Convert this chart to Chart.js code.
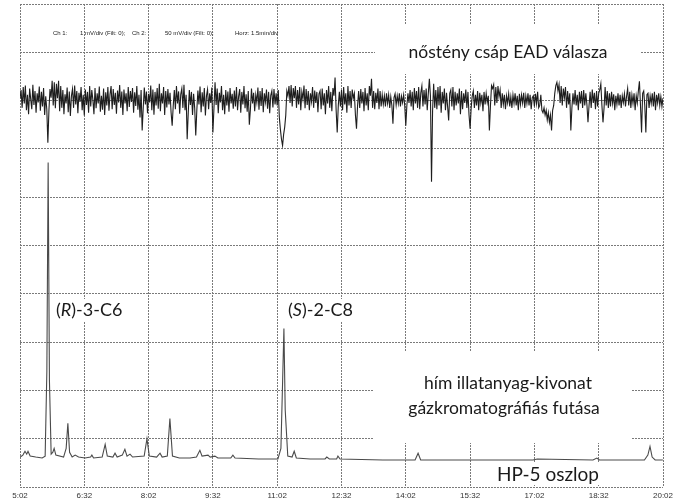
<!DOCTYPE html>
<html>
<head>
<meta charset="utf-8">
<script src="https://cdn.jsdelivr.net/npm/chart.js@4"></script>
<style>
  body { margin: 0; background: #fff; }
  #wrap { width: 678px; height: 504px; }
</style>
</head>
<body>
<div id="wrap"><canvas id="gcead"></canvas></div>
<script>
// idotengely (perc) - tick feliratok
var xTickLabels = ['5:02', '6:32', '8:02', '9:32', '11:02', '12:32', '14:02', '15:32', '17:02', '18:32', '20:02'];

// EAD (Ch 1, uV) - 0.025 perces lepessel 5:02-tol
var eadStart = 5.0333;
var eadStep = 0.025;
var eadValues = [
  50, 220, -150, 280, -60, 310, -200, 120, -280, 250, 30, -180, 330, -90, 200, -250, 150, -40, 290, -210,
  180, -120, 260, -300, 90, -180, -870, -200, 240, 60, 410, -100, 380, -160, 350, 50, 410, -220, 300, -150,
  220, -280, 130, -60, 270, -240, 190, -320, 100, 240, -150, 310, -80, 200, -260, 160, -30, 280, -200, 120,
  -310, 230, -90, 180, -250, 300, -120, 220, 20, -280, 260, -160, 150, -60, 290, -230, 100, -190, 250, -300,
  170, -100, 280, -210, 130, 300, -180, 240, -90, 160, -270, 210, -40, 320, -150, 190, -300, 230, -60, 150,
  -220, 280, -130, 200, -30, 260, -250, 170, -110, 300, -190, 120, -350, 220, -620, -150, 270, -80, 190, -260,
  140, -40, 310, -200, 230, -290, 180, -100, 260, -170, 350, -220, 150, -60, 280, -300, 200, -140, 240, -80,
  160, -250, -520, -100, 220, -180, 300, -60, 190, -270, 130, 250, -150, 330, -200, 120, -800, -250, 220, -90,
  180, -300, 140, -150, -720, -200, 210, -80, 290, -240, 170, -120, 260, -310, 100, 230, -180, 150, -50, 270,
  -660, -150, 380, -90, 250, -260, 160, -40, 300, -200, 120, -280, 220, -100, 190, -230, 260, -60, 140, -170,
  210, -120, 280, -200, 90, 240, -250, 180, -80, 300, -160, 130, -230, 200, -500, -180, 250, -60, 160, -220,
  120, -40, 270, -190, 200, -110, 260, -240, 150, -30, 230, -170, 180, -260, 110, 200, -140, 240, -80, 150,
  -100, 220, -350, -600, -800, -930, -700, -550, -300, 200, 100, 300, -50, 320, -120, 260, 50, 300, -150, 220,
  -80, 280, -200, 180, 30, 310, -160, 240, -90, 200, -200, 150, -20, 280, -150, 210, -50, 180, -240, 140,
  200, -180, 250, -100, 150, -280, 220, -60, 300, -150, 180, -220, 260, 100, 480, -200, -660, -100, 180, -120,
  220, -200, 280, -80, 150, -250, 300, -100, 200, -150, 230, 50, 150, -300, -580, -100, 200, -150, 240, -60,
  180, -220, 260, -100, 150, -200, 300, 100, 450, -150, 200, -180, 160, -50, 250, -180, 200, -120, 120, -80,
  100, -120, 150, -60, 120, -150, 80, -100, -480, 60, 140, -90, 100, -60, 150, -120, 90, -40, 120, -100,
  -520, -100, 150, -50, 220, -120, 180, -200, 260, -60, 200, -150, 280, -180, 160, 300, -120, 220, -80, 250,
  -200, 150, 450, 100, -1680, -200, 350, -150, 220, -180, 280, -100, 300, -250, 180, -60, 250, -200, 160, -120,
  -410, 150, 220, -120, 280, -200, 180, -100, 150, -60, 250, -280, 200, -180, 150, -50, 230, -150, 180, -300,
  -580, -150, 100, 200, -150, 120, -100, 200, -200, 160, -50, 120, -220, 180, -80, 150, -40, 100, -620, -100,
  310, 250, 330, -100, 280, -50, 300, 80, 220, -150, 150, -80, 120, -180, 100, -50, 140, -120, 80, -150,
  120, -60, 150, -100, 100, -200, 140, -80, 120, -50, 160, -150, 100, -60, 150, -100, 120, -180, 60, 100,
  -120, 140, -60, 180, -150, -100, 120, -200, -250, -150, -300, -200, -400, -250, -450, -300, -620, -200, -100, 150,
  310, 380, 200, 330, -50, 300, -100, 250, 60, 280, -150, 200, -80, 150, -620, -150, 150, -80, 220, -100,
  120, -200, 180, -60, 200, -150, 220, -100, 150, -80, -450, -100, 180, -150, 230, -50, 160, -180, 200, -120,
  150, 220, 350, -100, -450, -150, 280, -100, 200, -150, 150, -120, 180, -60, 130, -200, 100, -80, 150, -100,
  120, -150, 100, -40, 140, -120, 90, 250, -100, 180, -150, 120, -60, 150, -200, 100, -50, 200, 400, -100,
  -660, 150, 200, -100, -660, 120, 150, -150, 100, -60, 150, -120, 180, -200, 120, -50, 150, -100, 80, -120,
  50
];

// GC (Ch 2, mV) - ido (perc) es jel
var gcTimes = [
  5.04, 5.10, 5.15, 5.19, 5.22, 5.27, 5.40, 5.55, 5.62, 5.66, 5.69, 5.72, 5.76, 5.80, 5.83, 5.87,
  6.05, 6.11, 6.15, 6.19, 6.25, 6.32, 6.40, 6.55, 6.68, 6.71, 6.75, 6.95, 7.02, 7.07, 7.20, 7.25,
  7.30, 7.42, 7.48, 7.53, 7.60, 7.66, 7.93, 7.995, 8.05, 8.22, 8.30, 8.35, 8.47, 8.53, 8.59, 8.75,
  9.00, 9.15, 9.23, 9.28, 9.42, 9.47, 9.58, 9.65, 9.95, 10.00, 10.05, 10.60, 11.05, 11.12, 11.16, 11.19,
  11.22, 11.28, 11.38, 11.43, 11.48, 11.80, 12.15, 12.19, 12.25, 12.42, 12.45, 12.50, 13.50, 14.25, 14.32, 14.38,
  15.50, 17.00, 17.10, 18.40, 18.49, 18.55, 19.60, 19.68, 19.73, 19.78, 19.85, 20.03
];
var gcValues = [
  31, 33, 37, 34, 37, 32, 31, 30, 32, 120, 336, 110, 34, 36, 40, 33,
  31, 40, 66, 36, 31, 33, 31, 30, 31, 33, 30, 31, 44, 32, 31, 35,
  31, 33, 39, 32, 34, 31, 32, 50, 32, 31, 35, 31, 32, 71, 32, 30,
  30, 31, 38, 32, 33, 31, 32, 30, 30, 33, 30, 29, 29, 40, 110, 164,
  80, 32, 31, 37, 30, 29, 29, 31, 29, 29, 32, 29, 28, 28, 35, 28,
  28, 28, 29, 28, 30, 28, 28, 33, 42, 31, 28, 28
];

function toMin(s) {
  var p = s.split(':');
  return parseInt(p[0], 10) + parseInt(p[1], 10) / 60;
}
var tickTimes = xTickLabels.map(toMin);

var eadData = eadValues.map(function (v, i) { return { x: eadStart + i * eadStep, y: v }; });
var gcData = gcTimes.map(function (t, i) { return { x: t, y: gcValues[i] }; });

// feliratok feher hatterrel
var notesPlugin = {
  id: 'notes',
  beforeDatasetsDraw: function (chart) {
    var ctx = chart.ctx;
    ctx.save();
    ctx.fillStyle = '#fff';
    ctx.fillRect(375, 24, 266, 50);
    ctx.fillRect(373, 352, 259, 91);
    ctx.fillRect(490, 463, 114, 22);
    ctx.fillRect(54, 299, 76, 22);
    ctx.fillRect(286, 299, 73, 22);

    ctx.fillStyle = '#1a1a1a';
    ctx.textBaseline = 'middle';
    ctx.textAlign = 'left';
    ctx.font = '6px "Liberation Sans", Arial, sans-serif';
    ctx.fillText('Ch 1:', 53, 33);
    ctx.fillText('1 mV/div (Filt: 0);', 80, 33);
    ctx.fillText('Ch 2:', 132, 33);
    ctx.fillText('50 mV/div (Filt: 0);', 165, 33);
    ctx.fillText('Horz: 1.5min/div', 235, 33);

    ctx.textAlign = 'center';
    ctx.font = '17.5px Lato, "Noto Sans", sans-serif';
    ctx.fillText('nőstény csáp EAD válasza', 508, 52);
    ctx.fillText('hím illatanyag-kivonat', 508, 383);
    ctx.fillText('gázkromatográfiás futása', 504, 408);
    ctx.font = '19px Lato, "Noto Sans", sans-serif';
    ctx.fillText('HP-5 oszlop', 548, 475);

    ctx.textAlign = 'left';
    drawLabel(ctx, '(', 'R', ')-3-C6', 56, 310);
    drawLabel(ctx, '(', 'S', ')-2-C8', 288, 310);
    ctx.restore();
  }
};

function drawLabel(ctx, a, b, c, x, y) {
  var f = '18px Lato, "Noto Sans", sans-serif';
  ctx.font = f;
  ctx.fillText(a, x, y);
  x += ctx.measureText(a).width;
  ctx.font = 'italic ' + f;
  ctx.fillText(b, x, y);
  x += ctx.measureText(b).width;
  ctx.font = f;
  ctx.fillText(c, x, y);
}

new Chart(document.getElementById('gcead'), {
  type: 'line',
  data: {
    datasets: [
      { label: 'EAD', data: eadData, yAxisID: 'yEad', borderColor: '#1e1e1e', borderWidth: 1.1, pointRadius: 0, tension: 0 },
      { label: 'GC', data: gcData, yAxisID: 'yGc', borderColor: '#4a4a4a', borderWidth: 1.1, pointRadius: 0, tension: 0 }
    ]
  },
  options: {
    responsive: true,
    maintainAspectRatio: false,
    animation: false,
    layout: { padding: { left: 20, right: 15, top: 4, bottom: 0 } },
    plugins: { legend: { display: false }, tooltip: { enabled: false } },
    scales: {
      x: {
        type: 'linear',
        min: tickTimes[0],
        max: tickTimes[tickTimes.length - 1],
        afterBuildTicks: function (scale) {
          scale.ticks = tickTimes.map(function (t) { return { value: t }; });
        },
        afterFit: function (scale) { scale.height = 17; },
        grid: { color: '#7a7a7a', lineWidth: 1, drawTicks: false },
        border: { display: false, dash: [2, 1] },
        ticks: {
          padding: 4,
          maxRotation: 0,
          autoSkip: false,
          color: '#333',
          font: { family: '"Liberation Sans", Arial, sans-serif', size: 8 },
          callback: function (v, i) { return xTickLabels[i]; }
        }
      },
      yGc: {
        position: 'left',
        min: 0,
        max: 500,
        afterFit: function (scale) { scale.width = 0; },
        ticks: { display: false, stepSize: 50 },
        grid: { color: '#7a7a7a', lineWidth: 1, drawTicks: false },
        border: { display: false, dash: [2, 1] }
      },
      yEad: {
        display: false,
        position: 'right',
        min: -8000,
        max: 2000
      }
    }
  },
  plugins: [notesPlugin]
});
</script>
</body>
</html>
